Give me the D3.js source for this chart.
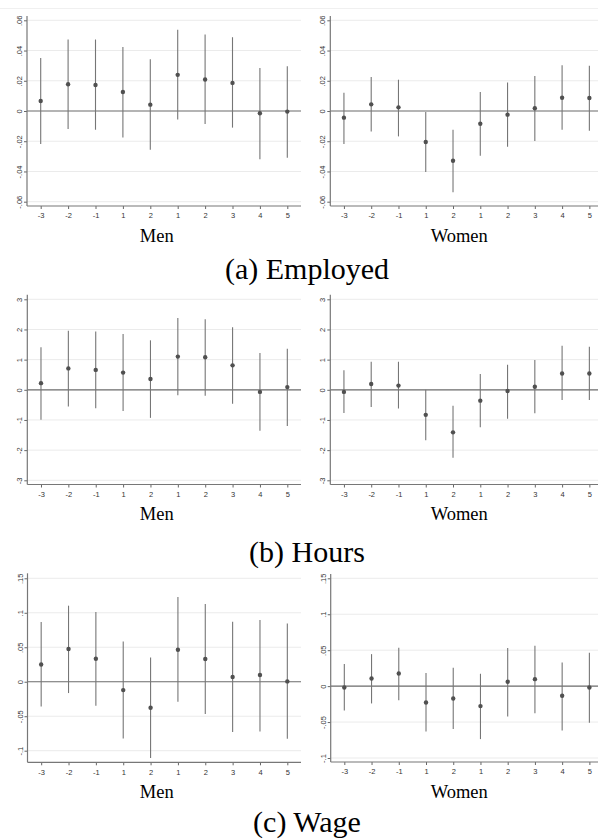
<!DOCTYPE html>
<html>
<head>
<meta charset="utf-8">
<script src="https://cdn.jsdelivr.net/npm/d3@7"></script>
<style>
  body { margin: 0; background: #fff; }
  svg { display: block; }
  .tick text { font-family: "Liberation Sans", Arial, sans-serif; font-size: 7.5px; fill: #333; }
  .tick line { stroke: #666; }
  .serif { font-family: "Liberation Serif", "Times New Roman", serif; fill: #000; }
</style>
</head>
<body>
<div id="chart"></div>
<script>
// event time on the x axis (two windows, so labels repeat)
var periods = ["-3", "-2", "-1", "1", "2", "1", "2", "3", "4", "5"];

// (a) Employed
var empMen     = [0.0066, 0.0177, 0.0172, 0.0126, 0.0042, 0.0239, 0.0208, 0.0186, -0.0015, -0.0004];
var empMenLo   = [-0.0219, -0.0119, -0.0124, -0.0175, -0.0256, -0.0057, -0.0086, -0.0110, -0.0320, -0.0309];
var empMenHi   = [0.0351, 0.0473, 0.0473, 0.0424, 0.0343, 0.0537, 0.0506, 0.0488, 0.0285, 0.0296];
var empWomen   = [-0.0044, 0.0044, 0.0024, -0.0205, -0.0329, -0.0084, -0.0024, 0.0018, 0.0088, 0.0086];
var empWomenLo = [-0.0218, -0.0135, -0.0168, -0.0404, -0.0538, -0.0296, -0.0236, -0.0199, -0.0124, -0.0130];
var empWomenHi = [0.0121, 0.0225, 0.0207, -0.0007, -0.0124, 0.0126, 0.0188, 0.0232, 0.0302, 0.0300];
var empTicks      = [-0.06, -0.04, -0.02, 0, 0.02, 0.04, 0.06];
var empTickLabels = ["-.06", "-.04", "-.02", "0", ".02", ".04", ".06"];

// (b) Hours
var hrsMen     = [0.22, 0.71, 0.66, 0.57, 0.36, 1.10, 1.08, 0.81, -0.07, 0.09];
var hrsMenLo   = [-0.99, -0.55, -0.61, -0.70, -0.93, -0.18, -0.20, -0.46, -1.36, -1.20];
var hrsMenHi   = [1.41, 1.96, 1.93, 1.85, 1.64, 2.38, 2.34, 2.07, 1.22, 1.36];
var hrsWomen   = [-0.07, 0.19, 0.14, -0.83, -1.41, -0.36, -0.04, 0.10, 0.54, 0.54];
var hrsWomenLo = [-0.77, -0.57, -0.62, -1.67, -2.25, -1.24, -0.96, -0.78, -0.34, -0.34];
var hrsWomenHi = [0.65, 0.93, 0.93, 0.00, -0.53, 0.52, 0.83, 0.99, 1.46, 1.43];
var hrsTicks      = [-3, -2, -1, 0, 1, 2, 3];
var hrsTickLabels = ["-3", "-2", "-1", "0", "1", "2", "3"];

// (c) Wage
var wageMen     = [0.0251, 0.0474, 0.0334, -0.0121, -0.0377, 0.0464, 0.0329, 0.0068, 0.0097, 0.0005];
var wageMenLo   = [-0.0358, -0.0164, -0.0348, -0.0822, -0.1107, -0.0290, -0.0469, -0.0730, -0.0720, -0.0827];
var wageMenHi   = [0.0866, 0.1103, 0.1011, 0.0585, 0.0353, 0.1228, 0.1127, 0.0870, 0.0895, 0.0846];
var wageWomen   = [-0.0019, 0.0107, 0.0176, -0.0227, -0.0172, -0.0278, 0.0060, 0.0097, -0.0135, -0.0019];
var wageWomenLo = [-0.0339, -0.0241, -0.0195, -0.0631, -0.0598, -0.0737, -0.0422, -0.0376, -0.0617, -0.0510];
var wageWomenHi = [0.0306, 0.0445, 0.0533, 0.0181, 0.0255, 0.0172, 0.0529, 0.0561, 0.0329, 0.0464];
var wageTicks      = [-0.1, -0.05, 0, 0.05, 0.1, 0.15];
var wageTickLabels = ["-.1", "-.05", "0", ".05", ".1", ".15"];

var W = 598, H = 839;

var svg = d3.select("#chart").append("svg")
    .attr("width", W)
    .attr("height", H);

// faint frame line at the very top
svg.append("line")
    .attr("x1", 0).attr("x2", W).attr("y1", 8.5).attr("y2", 8.5)
    .attr("stroke", "#f0f0f0");

// layout of each row: pixel positions of the top/bottom tick and of the axis frame
var rows = [
  {caption: "(a) Employed", captionY: 279, titleY: 242, ticks: empTicks, labels: empTickLabels,
   panels: [
     {title: "Men",   est: empMen,   lo: empMenLo,   hi: empMenHi,   x0: 27,    x1: 301, gTop: 20.3, gBot: 201.7, aTop: 16, aBot: 206, titleX: 156.7},
     {title: "Women", est: empWomen, lo: empWomenLo, hi: empWomenHi, x0: 330.3, x1: 603, gTop: 20.3, gBot: 201.7, aTop: 16, aBot: 206, titleX: 459.3}
   ]},
  {caption: "(b) Hours", captionY: 561.5, titleY: 520, ticks: hrsTicks, labels: hrsTickLabels,
   panels: [
     {title: "Men",   est: hrsMen,   lo: hrsMenLo,   hi: hrsMenHi,   x0: 27.3,  x1: 301, gTop: 299.3, gBot: 480.3, aTop: 294.7, aBot: 484.5, titleX: 156.7},
     {title: "Women", est: hrsWomen, lo: hrsWomenLo, hi: hrsWomenHi, x0: 330.3, x1: 603, gTop: 299.3, gBot: 480.3, aTop: 294.7, aBot: 484.5, titleX: 459.3}
   ]},
  {caption: "(c) Wage", captionY: 831.5, titleY: 798.3, ticks: wageTicks, labels: wageTickLabels,
   panels: [
     {title: "Men",   est: wageMen,   lo: wageMenLo,   hi: wageMenHi,   x0: 27.5,  x1: 301, gTop: 578.3, gBot: 750.7, aTop: 573.3, aBot: 762.3, titleX: 156.7},
     {title: "Women", est: wageWomen, lo: wageWomenLo, hi: wageWomenHi, x0: 330.7, x1: 603, gTop: 578.3, gBot: 758,   aTop: 574,   aBot: 762,   titleX: 459.3}
   ]}
];

rows.forEach(function(row) {
  var tMin = d3.min(row.ticks), tMax = d3.max(row.ticks);

  row.panels.forEach(function(p) {
    var x = d3.scalePoint()
        .domain(d3.range(periods.length))
        .range([p.x0, p.x1])
        .padding(0.5);

    var y = d3.scaleLinear()
        .domain([tMin, tMax])
        .range([p.gBot, p.gTop]);

    var g = svg.append("g");

    // gridlines
    g.selectAll(".grid")
      .data(row.ticks.filter(function(t) { return t !== 0; }))
      .enter().append("line")
        .attr("x1", p.x0).attr("x2", p.x1)
        .attr("y1", function(d) { return y(d); })
        .attr("y2", function(d) { return y(d); })
        .attr("stroke", "#ebebeb");

    // zero line
    g.append("line")
        .attr("x1", p.x0).attr("x2", p.x1)
        .attr("y1", y(0)).attr("y2", y(0))
        .attr("stroke", "#6b6b6b")
        .attr("stroke-width", 1.2);

    // confidence intervals
    g.selectAll(".ci")
      .data(d3.range(periods.length))
      .enter().append("line")
        .attr("x1", function(i) { return x(i); })
        .attr("x2", function(i) { return x(i); })
        .attr("y1", function(i) { return y(p.lo[i]); })
        .attr("y2", function(i) { return y(p.hi[i]); })
        .attr("stroke", "#767676")
        .attr("stroke-width", 1.1);

    // point estimates
    g.selectAll(".pt")
      .data(d3.range(periods.length))
      .enter().append("circle")
        .attr("cx", function(i) { return x(i); })
        .attr("cy", function(i) { return y(p.est[i]); })
        .attr("r", 2.2)
        .attr("fill", "#505050");

    // x axis
    g.append("g")
        .attr("transform", "translate(0," + p.aBot + ")")
        .call(d3.axisBottom(x).tickFormat(function(i) { return periods[i]; }).tickSize(3).tickPadding(4))
        .call(function(a) { a.select(".domain").remove(); });

    // y axis, labels rotated like Stata
    g.append("g")
        .attr("transform", "translate(" + p.x0 + ",0)")
        .call(d3.axisLeft(y).tickValues(row.ticks)
          .tickFormat(function(d, i) { return row.labels[i]; }).tickSize(3))
        .call(function(a) { a.select(".domain").remove(); })
      .selectAll("text")
        .attr("x", 0).attr("y", 0).attr("dy", 0)
        .attr("text-anchor", "middle")
        .attr("transform", "translate(-5,0) rotate(-90)");

    // axis frame lines
    g.append("line")
        .attr("x1", p.x0).attr("x2", p.x0)
        .attr("y1", p.aTop).attr("y2", p.aBot)
        .attr("stroke", "#777").attr("stroke-width", 1.2);
    g.append("line")
        .attr("x1", p.x0).attr("x2", p.x1)
        .attr("y1", p.aBot).attr("y2", p.aBot)
        .attr("stroke", "#777").attr("stroke-width", 1.2);

    // panel title
    g.append("text")
        .attr("class", "serif")
        .attr("x", p.titleX).attr("y", row.titleY)
        .attr("text-anchor", "middle")
        .style("font-size", "18.5px")
        .text(p.title);
  });

  // sub-figure caption
  svg.append("text")
      .attr("class", "serif")
      .attr("x", 307).attr("y", row.captionY)
      .attr("text-anchor", "middle")
      .style("font-size", "30px")
      .text(row.caption);
});
</script>
</body>
</html>
